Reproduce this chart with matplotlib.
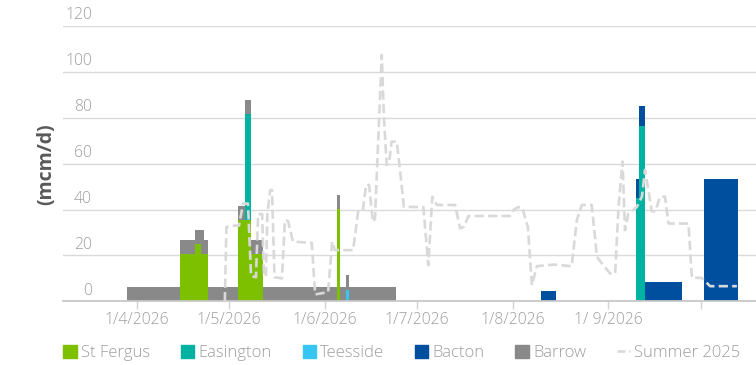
import pandas as pd
import matplotlib
matplotlib.use('Agg')
import matplotlib.pyplot as plt
from matplotlib.patches import Patch
from matplotlib.lines import Line2D

plt.rcParams['font.family'] = ['Open Sans', 'DejaVu Sans']

# Tramos de cada terminal: (primer día, último día, mcm/d)
st_fergus = [('2026-04-15', '2026-04-19', 20.7), ('2026-04-20', '2026-04-21', 24.8),
             ('2026-04-22', '2026-04-23', 20.7), ('2026-05-04', '2026-05-07', 35.4),
             ('2026-05-08', '2026-05-11', 20.7), ('2026-06-05', '2026-06-05', 40.1)]
easington = [('2026-05-06', '2026-05-07', 46.1), ('2026-09-10', '2026-09-10', 45.2),
             ('2026-09-11', '2026-09-12', 76.4)]
teesside = [('2026-06-08', '2026-06-08', 5.1)]
bacton = [('2026-08-10', '2026-08-14', 4.6), ('2026-09-10', '2026-09-10', 8.1),
          ('2026-09-11', '2026-09-12', 8.6), ('2026-09-13', '2026-09-24', 8.3),
          ('2026-10-02', '2026-10-12', 53.3)]
barrow = [('2026-03-29', '2026-06-23', 6.2), ('2026-04-22', '2026-04-22', 10.4)]

# Summer 2025: días desde el 1/4 y valor
verano_dia = [28.6, 29.1, 31.9, 33.2, 34.5, 36.1, 37.1, 38.7, 39.4, 40.7, 41.3, 41.9,
              42.4, 43.3, 43.9, 44.7, 47.1, 48.1, 49.1, 50.7, 56.8, 57.9, 62.1, 63.4,
              64.3, 70.2, 71.9, 73.4, 74.4, 75.4, 76.6, 77.3, 79.5, 80.2, 81.1, 81.9,
              82.7, 84.4, 86.7, 93.0, 94.6, 95.9, 97.4, 103.3, 104.9, 106.2, 107.6, 121.1,
              122.4, 123.7, 125.0, 126.9, 128.2, 129.8, 135.2, 141.1, 142.8, 144.4, 147.6,
              149.3, 150.9, 153.6, 155.2, 156.3, 157.6, 158.4, 159.5, 162.2, 163.9, 164.9,
              167.1, 168.2, 169.8, 171.4, 172.5, 179.0, 180.1, 183.3, 186.0, 194.7]
verano_valor = [0, 32.4, 33, 33, 42.6, 42.6, 11, 10.5, 38, 38, 11, 11,
                38, 48.5, 48.5, 10.5, 10, 35.4, 35, 26, 25.5, 3, 4, 26,
                22.3, 22.3, 39.7, 40, 50.7, 50.7, 34.6, 36, 107.4, 80, 59.4, 60.4,
                69.6, 69.6, 41.2, 41, 15.7, 45.6, 42, 42, 31.8, 32.5, 37.2, 37.2,
                40, 41, 41, 32.4, 7, 15.3, 16, 15.3, 35.5, 42, 42,
                19.4, 16.5, 12.1, 12.1, 41, 60.9, 31, 38.3, 41, 45.6, 57.3,
                39.2, 39.2, 45.6, 45.6, 33.9, 33.9, 10.2, 10.2, 6.6, 6.6]

series = [('St Fergus', st_fergus, '#7dc000'), ('Easington', easington, '#00b2a1'),
          ('Teesside', teesside, '#35c6f4'), ('Bacton', bacton, '#004f9e'),
          ('Barrow', barrow, '#898989')]

inicio = pd.Timestamp('2026-04-01')
dias = pd.date_range('2026-03-20', '2026-10-20')
gris_texto = '#9d9d9d'


def a_diario(tramos):
    s = pd.Series(0.0, index=dias)
    for ini, fin, v in tramos:
        s[ini:fin] = v
    return s


fig = plt.figure(figsize=(7.56, 3.65), dpi=100)
ax = fig.add_axes([63 / 756, 63.7 / 365, 693 / 756, 275.3 / 365])

base = pd.Series(0.0, index=dias)
for nombre, tramos, color in series:
    valores = a_diario(tramos)
    ax.bar(dias, valores, width=1, align='edge', bottom=base, color=color,
           linewidth=0, zorder=2)
    base = base + valores

fechas_verano = inicio + pd.to_timedelta(verano_dia, unit='D')
ax.plot(fechas_verano, verano_valor, color='#d9d9d9', lw=1.9, dashes=(3.5, 1.6), zorder=3)

ax.set_xlim(inicio - pd.Timedelta(days=23.9), inicio + pd.Timedelta(days=200.9))
ax.set_ylim(0, 120)

meses = pd.date_range('2026-04-01', '2026-10-01', freq='MS')
ax.set_xticks(meses)
ax.set_xticklabels(['1/4/2026', '1/5/2026', '1/6/2026', '1/7/2026', '1/8/2026', '1/ 9/2026', ''])
ax.tick_params(axis='x', length=6, width=1, color='#d4d4d4', pad=2,
               labelsize=11.3, labelcolor=gris_texto)
for t in ax.get_xticklabels():
    t.set_fontweight('light')

ax.set_yticks(range(0, 121, 20))
ax.tick_params(axis='y', length=0, labelleft=False)
ax.grid(axis='y', color='#dadada', lw=1, zorder=0)
ax.set_axisbelow(True)
for v in range(0, 121, 20):
    ax.annotate(str(v), xy=(0.0418, v), xycoords=ax.get_yaxis_transform(),
                xytext=(0, 2), textcoords='offset points', ha='right', va='bottom',
                fontsize=11.3, fontweight='light', color=gris_texto)

for lado in ['top', 'right', 'left']:
    ax.spines[lado].set_visible(False)
ax.spines['bottom'].set_color('#c8c8c8')
ax.spines['bottom'].set_linewidth(1.3)

fig.text(46 / 756, 1 - 164 / 365, '(mcm/d)', rotation=90, ha='center', va='center',
         fontsize=14, fontweight='bold', color='#595959')

manejadores = [Patch(color=c, label=n) for n, _, c in series]
manejadores.append(Line2D([], [], color='#d9d9d9', lw=1.9, dashes=(3, 1.4), label='Summer 2025'))
leyenda = fig.legend(handles=manejadores, loc='center', bbox_to_anchor=(402 / 756, 1 - 353 / 365),
                     ncol=6, frameon=False, fontsize=12, labelcolor=gris_texto,
                     handlelength=0.8, handleheight=0.8, handletextpad=0.25, columnspacing=1.85)
for t in leyenda.get_texts():
    t.set_fontweight('light')

fig.savefig('out.png', dpi=100)
